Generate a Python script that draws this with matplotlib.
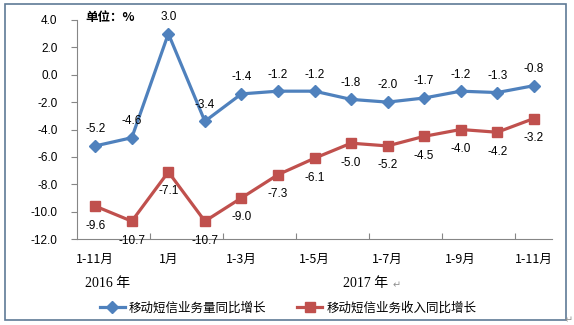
import matplotlib
matplotlib.use('Agg')
import matplotlib.pyplot as plt
from matplotlib.patches import Rectangle

plt.rcParams['font.family'] = ['Liberation Sans', 'Noto Sans CJK SC', 'DejaVu Sans']

# data
periods = ['1-11月', '1-12月', '1月', '1-2月', '1-3月', '1-4月', '1-5月',
           '1-6月', '1-7月', '1-8月', '1-9月', '1-10月', '1-11月']
volume_growth = [-5.2, -4.6, 3.0, -3.4, -1.4, -1.2, -1.2, -1.8, -2.0, -1.7, -1.2, -1.3, -0.8]
revenue_growth = [-9.6, -10.7, -7.1, -10.7, -9.0, -7.3, -6.1, -5.0, -5.2, -4.5, -4.0, -4.2, -3.2]
y_ticks = [4.0, 2.0, 0.0, -2.0, -4.0, -6.0, -8.0, -10.0, -12.0]

blue = '#4F81BD'
red = '#C0504D'
cjk = ['Noto Sans CJK SC', 'DejaVu Sans']

fig = plt.figure(figsize=(5.74, 3.25), dpi=100)
ax = fig.add_axes([77 / 574, 1 - 239 / 325, 475 / 574, 219 / 325])

x = list(range(len(periods)))
ax.plot(x, volume_growth, color=blue, lw=2.3, marker='D', ms=6, label='移动短信业务量同比增长')
ax.plot(x, revenue_growth, color=red, lw=2.3, marker='s', ms=7, label='移动短信业务收入同比增长')

for i, v in enumerate(volume_growth):
    ax.annotate(f'{v:.1f}', (i, v), xytext=(0, 12), textcoords='offset points',
                ha='center', va='center', fontsize=8.5)
for i, v in enumerate(revenue_growth):
    ax.annotate(f'{v:.1f}', (i, v), xytext=(0, -14), textcoords='offset points',
                ha='center', va='center', fontsize=8.5)

ax.set_xlim(-0.5, len(periods) - 0.5)
ax.set_ylim(-12, 4)
ax.set_yticks(y_ticks)
ax.set_yticklabels([f'{t:.1f}' for t in y_ticks], fontsize=8.5)

# category ticks sit on boundaries, labels on every other category
ax.set_xticks([i + 0.5 for i in range(1, len(periods) - 1, 2)])
ax.set_xticklabels([])
ax.tick_params(axis='x', direction='in', length=4, color='#868686')
ax.tick_params(axis='y', direction='out', length=4, color='#868686', pad=10)
for i in range(0, len(periods), 2):
    ax.text(i, -13.5, periods[i], ha='center', va='center', fontsize=9, family=cjk)

for s in ['top', 'right']:
    ax.spines[s].set_visible(False)
for s in ['left', 'bottom']:
    ax.spines[s].set_color('#868686')

fig.text(85 / 574, 1 - 18 / 325, '单位：%', fontsize=9, fontweight='bold',
         family=cjk, va='center')
fig.text(108 / 574, 1 - 283 / 325, '2016 年', fontsize=10, ha='center', va='center',
         family=['Liberation Serif', 'Noto Sans CJK SC'])
fig.text(366 / 574, 1 - 283 / 325, '2017 年', fontsize=10, ha='center', va='center',
         family=['Liberation Serif', 'Noto Sans CJK SC'])
fig.text(397 / 574, 1 - 285 / 325, '↵', fontsize=7, color='#909090', ha='center',
         va='center', family='DejaVu Sans')
fig.text(569 / 574, 1 - 320 / 325, '↵', fontsize=7, color='#909090', ha='center',
         va='center', family='DejaVu Sans')

fig.legend(loc='center', bbox_to_anchor=(288 / 574, 1 - 308 / 325), ncol=2,
           frameon=False, prop={'family': cjk, 'size': 9}, handlelength=2.0,
           columnspacing=2.5, handletextpad=0.3)

fig.patches.append(Rectangle((5 / 574, 1 - 320 / 325), 561 / 574, 316 / 325,
                             transform=fig.transFigure, fill=False,
                             edgecolor='#5F7A96', lw=1.2))

fig.savefig('out.png', dpi=100)
